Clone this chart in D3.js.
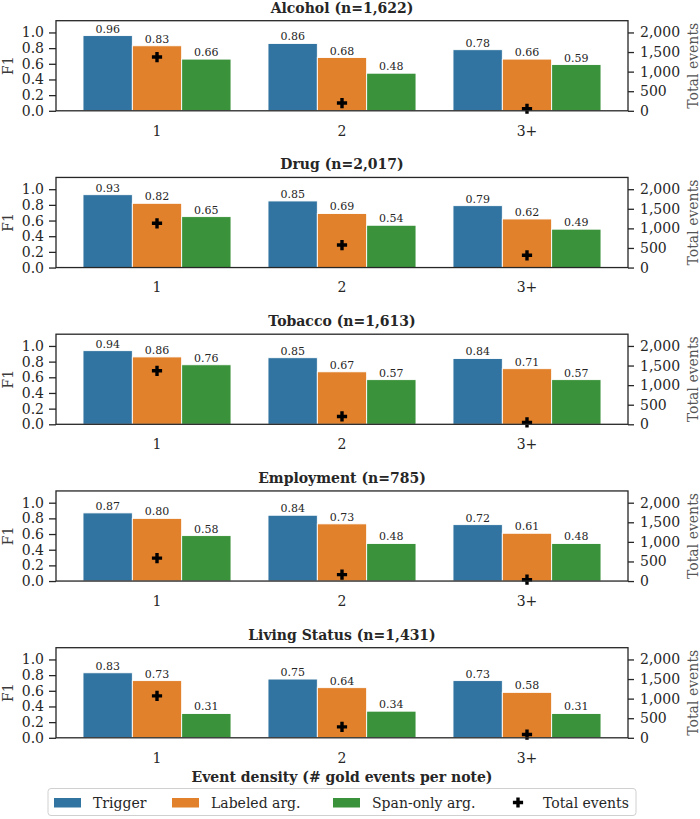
<!DOCTYPE html>
<html>
<head>
<meta charset="utf-8">
<script src="https://cdn.jsdelivr.net/npm/d3@7"></script>
<style>
  html, body { margin: 0; padding: 0; background: #fff; }
  svg { display: block; }
  text { font-family: "DejaVu Serif", serif; }
</style>
</head>
<body>
<svg id="chart" width="700" height="819"></svg>
<script>
// ---------------- data ----------------
const categories = ["1", "2", "3+"];
const panelTitles = ["Alcohol (n=1,622)", "Drug (n=2,017)", "Tobacco (n=1,613)", "Employment (n=785)", "Living Status (n=1,431)"];
const seriesNames = ["Trigger", "Labeled arg.", "Span-only arg."];
const triggerF1 = [[0.96, 0.86, 0.78], [0.93, 0.85, 0.79], [0.94, 0.85, 0.84], [0.87, 0.84, 0.72], [0.83, 0.75, 0.73]];
const labeledF1 = [[0.83, 0.68, 0.66], [0.82, 0.69, 0.62], [0.86, 0.67, 0.71], [0.80, 0.73, 0.61], [0.73, 0.64, 0.58]];
const spanF1    = [[0.66, 0.48, 0.59], [0.65, 0.54, 0.49], [0.76, 0.57, 0.57], [0.58, 0.48, 0.48], [0.31, 0.34, 0.31]];
const totalEvents = [[1372, 198, 52], [1130, 575, 312], [1365, 200, 48], [585, 165, 35], [1070, 278, 83]];
const f1Ticks = [0, 0.2, 0.4, 0.6, 0.8, 1.0];
const eventTicks = [0, 500, 1000, 1500, 2000];
const xLabel = "Event density (# gold events per note)";
const markerLabel = "Total events";

// ---------------- layout ----------------
const colors = ["#3274a1", "#e1812c", "#3a923a"];
const ink = "#262626";
const left = 56, right = 628;
const top0 = 20.7, panelStep = 156.75, plotH = 90.1;

const svg = d3.select("#chart");

const x0 = d3.scaleBand().domain(categories).range([left, right]).paddingInner(0).paddingOuter(0.046);
const bw = x0.bandwidth();
const x1 = d3.scaleBand().domain(seriesNames).range([bw * 0.1, bw * 0.9]).padding(0);
const y = d3.scaleLinear().domain([0, 1.15]).range([plotH, 0]);
const yR = d3.scaleLinear().domain([0, 2300]).range([plotH, 0]);
const cross = d3.symbol().type(d3.symbolCross).size(58);

const seriesData = [triggerF1, labeledF1, spanF1];

panelTitles.forEach((title, i) => {
  const g = svg.append("g").attr("transform", `translate(0,${top0 + i * panelStep})`);

  // bars
  seriesNames.forEach((s, si) => {
    const vals = seriesData[si][i];
    g.selectAll(null).data(categories).enter().append("rect")
      .attr("x", (c) => x0(c) + x1(s))
      .attr("width", x1.bandwidth())
      .attr("y", (c, ci) => y(vals[ci]))
      .attr("height", (c, ci) => plotH - y(vals[ci]))
      .attr("fill", colors[si])
      .attr("stroke", "#ffffff")
      .attr("stroke-width", 0.9);
    g.selectAll(null).data(categories).enter().append("text")
      .attr("x", (c) => x0(c) + x1(s) + x1.bandwidth() / 2)
      .attr("y", (c, ci) => y(vals[ci]) - 3)
      .attr("text-anchor", "middle")
      .attr("font-size", 11)
      .attr("fill", ink)
      .text((c, ci) => d3.format(".2f")(vals[ci]));
  });

  // markers
  g.selectAll(null).data(categories).enter().append("path")
    .attr("d", cross)
    .attr("transform", (c, ci) => `translate(${x0(c) + bw / 2},${yR(totalEvents[i][ci])})`)
    .attr("fill", "#000");

  // frame
  g.append("rect").attr("x", left).attr("y", 0).attr("width", right - left).attr("height", plotH)
    .attr("fill", "none").attr("stroke", ink).attr("stroke-width", 1.3);

  // axes
  const ax = g.append("g").attr("transform", `translate(${left},0)`)
    .call(d3.axisLeft(y).tickValues(f1Ticks).tickFormat(d3.format(".1f")).tickSize(7).tickPadding(5));
  const axR = g.append("g").attr("transform", `translate(${right},0)`)
    .call(d3.axisRight(yR).tickValues(eventTicks).tickFormat(d3.format(",")).tickSize(6).tickPadding(6));
  const axB = g.append("g").attr("transform", `translate(0,${plotH})`)
    .call(d3.axisBottom(x0).tickSize(0).tickPadding(15));
  [ax, axR, axB].forEach(a => {
    a.attr("font-family", null);
    a.select(".domain").remove();
    a.selectAll(".tick line").attr("stroke", ink).attr("stroke-width", 1.3);
    a.selectAll(".tick text").attr("font-size", 14).attr("fill", ink);
  });

  // title
  g.append("text").attr("x", (left + right) / 2).attr("y", -8)
    .attr("text-anchor", "middle").attr("font-size", 14).attr("font-weight", "bold").attr("fill", ink)
    .text(title);

  // y labels
  g.append("text").attr("transform", `translate(13,${plotH / 2}) rotate(-90)`)
    .attr("text-anchor", "middle").attr("font-size", 14).attr("fill", "#3a3a3a").text("F1");
  g.append("text").attr("transform", `translate(698,${plotH / 2}) rotate(-90)`)
    .attr("text-anchor", "middle").attr("font-size", 14).attr("fill", "#555").text(markerLabel);
});

// x label
svg.append("text").attr("x", (left + right) / 2).attr("y", 782)
  .attr("text-anchor", "middle").attr("font-size", 14).attr("font-weight", "bold").attr("fill", ink)
  .text(xLabel);

// legend
const lg = svg.append("g");
lg.append("rect").attr("x", 48).attr("y", 788.5).attr("width", 588).attr("height", 27).attr("rx", 3)
  .attr("fill", "#fff").attr("stroke", "#d0d0d0").attr("stroke-width", 1);
const handleX = [54, 172, 333, 504];
seriesNames.forEach((s, si) => {
  lg.append("rect").attr("x", handleX[si]).attr("y", 798).attr("width", 27).attr("height", 9.5).attr("fill", colors[si]);
  lg.append("text").attr("x", handleX[si] + 39).attr("y", 807.5).attr("font-size", 14).attr("fill", ink).text(s);
});
lg.append("path").attr("d", cross).attr("transform", `translate(${handleX[3] + 14},802.5)`).attr("fill", "#000");
lg.append("text").attr("x", handleX[3] + 39).attr("y", 807.5).attr("font-size", 14).attr("fill", ink).text(markerLabel);
</script>
</body>
</html>
